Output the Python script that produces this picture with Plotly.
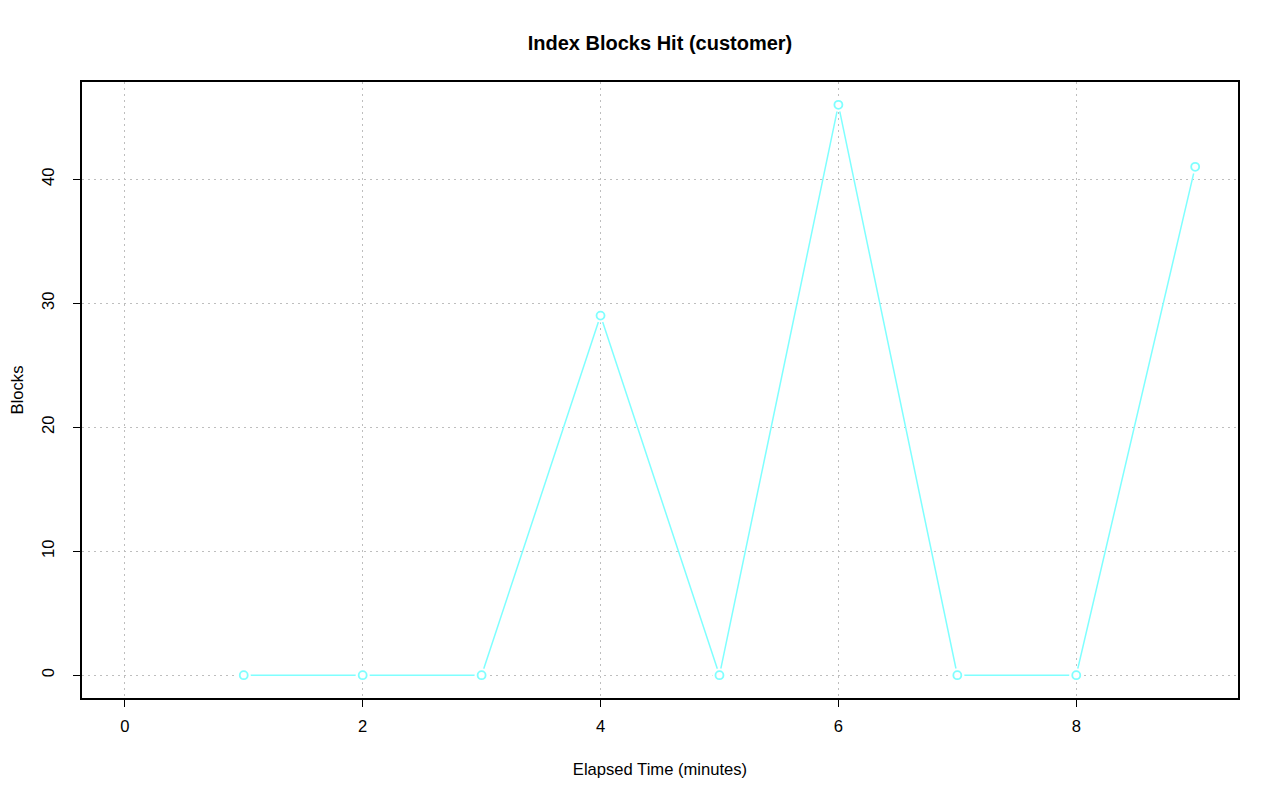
import plotly.graph_objects as go

minutes = [1, 2, 3, 4, 5, 6, 7, 8, 9]
blocks = [0, 0, 0, 29, 0, 46, 0, 0, 41]
x_ticks = [0, 2, 4, 6, 8]
y_ticks = [0, 10, 20, 30, 40]

FONT = "Liberation Sans, Arial, Helvetica, sans-serif"
CYAN = "#7fffff"

fig = go.Figure()
# connecting line
fig.add_trace(go.Scatter(
    x=minutes, y=blocks, mode="lines",
    line=dict(color=CYAN, width=1.5),
    showlegend=False, hoverinfo="skip",
))
# white halo so the line stops short of each point (R type="b")
fig.add_trace(go.Scatter(
    x=minutes, y=blocks, mode="markers",
    marker=dict(symbol="circle", size=14, color="white", line=dict(width=0)),
    showlegend=False, hoverinfo="skip",
))
# open circles
fig.add_trace(go.Scatter(
    x=minutes, y=blocks, mode="markers",
    marker=dict(symbol="circle-open", size=8, color=CYAN, line=dict(width=1.8, color=CYAN)),
    showlegend=False, hoverinfo="x+y",
))

axis_common = dict(
    showline=True, linecolor="black", linewidth=2, mirror=True,
    ticks="outside", ticklen=7, tickwidth=1.3, tickcolor="black",
    showgrid=True, gridcolor="#bebebe", griddash="1.5px,4.5px", gridwidth=1.3,
    zeroline=False, automargin=False,
    tickfont=dict(family=FONT, size=16.6, color="black"),
)

fig.update_xaxes(
    **axis_common, range=[-0.36, 9.36], tickmode="array", tickvals=x_ticks,
    ticklabelstandoff=5,
    title=dict(text="Elapsed Time (minutes)", font=dict(family=FONT, size=16.6, color="black"), standoff=28),
)
fig.update_yaxes(
    **axis_common, range=[-1.84, 47.84], tickmode="array", tickvals=y_ticks,
    tickangle=-90, ticklabelstandoff=12,
    title=dict(text="Blocks", font=dict(family=FONT, size=16.6, color="black"), standoff=19),
)

fig.update_layout(
    width=1280, height=801,
    margin=dict(l=74, r=50, t=74, b=111),
    paper_bgcolor="white", plot_bgcolor="white",
    title=dict(text="<b>Index Blocks Hit (customer)</b>", x=(74 + 1230) / 2 / 1280, xanchor="center",
               y=1 - 35 / 801, yanchor="middle", yref="container",
               font=dict(family=FONT, size=20, color="black")),
)

fig.write_html("out.html")
